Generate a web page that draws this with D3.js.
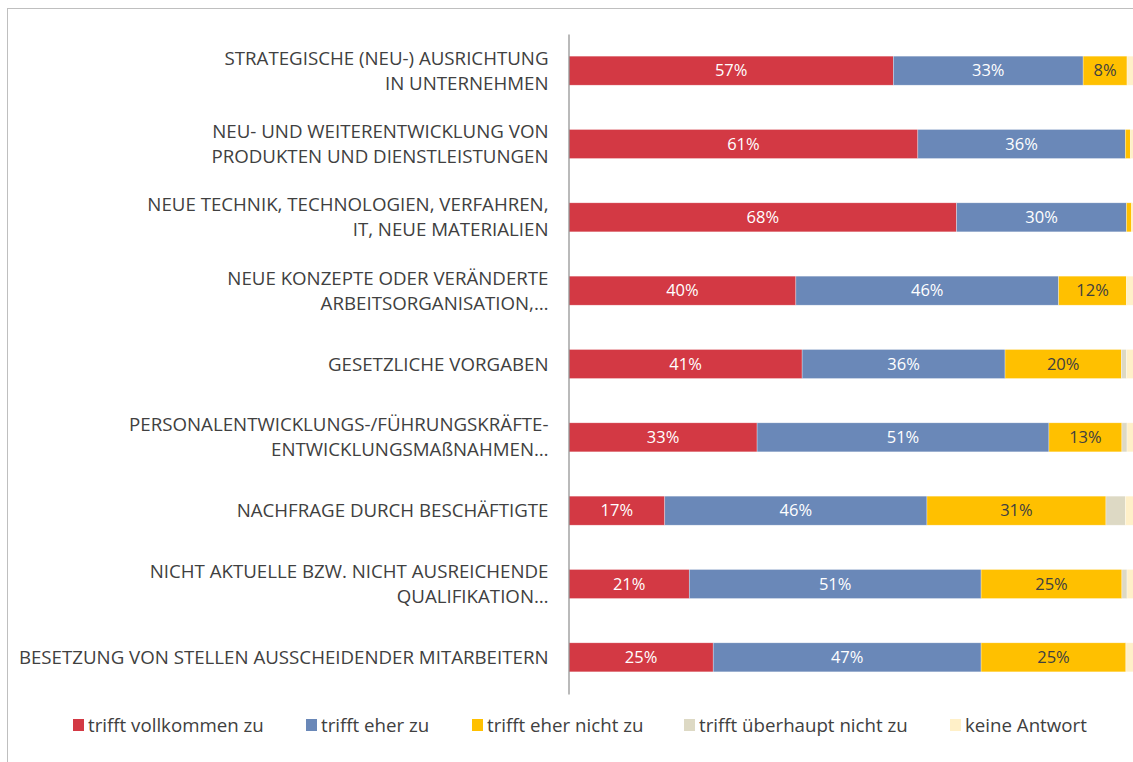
<!DOCTYPE html>
<html><head><meta charset="utf-8">
<script src="https://cdn.jsdelivr.net/npm/d3@7"></script>
<style>
html,body{margin:0;padding:0;background:#fff;overflow:hidden;}
svg{display:block;font-family:"Open Sans",sans-serif;}
</style></head>
<body>
<svg id="chart" width="1133" height="762"></svg>
<script>
const categories = [
  ["STRATEGISCHE (NEU-) AUSRICHTUNG","IN UNTERNEHMEN"],
  ["NEU- UND WEITERENTWICKLUNG VON","PRODUKTEN UND DIENSTLEISTUNGEN"],
  ["NEUE TECHNIK, TECHNOLOGIEN, VERFAHREN,","IT, NEUE MATERIALIEN"],
  ["NEUE KONZEPTE ODER VERÄNDERTE","ARBEITSORGANISATION,…"],
  ["GESETZLICHE VORGABEN"],
  ["PERSONALENTWICKLUNGS-/FÜHRUNGSKRÄFTE-","ENTWICKLUNGSMAßNAHMEN…"],
  ["NACHFRAGE DURCH BESCHÄFTIGTE"],
  ["NICHT AKTUELLE BZW. NICHT AUSREICHENDE","QUALIFIKATION…"],
  ["BESETZUNG VON STELLEN AUSSCHEIDENDER MITARBEITERN"]
];
const seriesNames = ["trifft vollkommen zu","trifft eher zu","trifft eher nicht zu","trifft überhaupt nicht zu","keine Antwort"];
const vollkommen   = [56.9, 61.2, 68.0, 39.8, 40.9, 33.0, 16.8, 21.1, 25.3];
const eherZu       = [33.3, 36.4, 29.8, 46.1, 35.6, 51.2, 46.0, 51.2, 47.0];
const eherNicht    = [7.7, 0.9, 0.9, 11.9, 20.4, 12.8, 31.4, 24.7, 25.4];
const ueberhaupt   = [0, 0, 0, 0, 0.9, 0.9, 3.4, 0.9, 0];
const keineAntwort = [2.1, 1.5, 1.3, 2.2, 2.2, 2.1, 2.4, 2.1, 2.3];
const colors = ["#D33944","#6A88B8","#FFC000","#DDD9C4","#FFF0C8"];
const labelColors = ["#ffffff","#ffffff","#404040","#404040","#404040"];

const seriesValues = [vollkommen, eherZu, eherNicht, ueberhaupt, keineAntwort];
const keys = seriesNames;
const table = categories.map((c,i)=>{
  const row = {cat: c.join(" ")};
  keys.forEach((k,j)=>row[k]=seriesValues[j][i]);
  return row;
});
const stacked = d3.stack().keys(keys)(table);
const FONT = "'Open Sans', sans-serif";

const svg = d3.select("#chart");
svg.append("rect").attr("x",7.5).attr("y",8.5).attr("width",1300).attr("height",900)
  .attr("fill","none").attr("stroke","#bfbfbf").attr("stroke-width",1);

const x = d3.scaleLinear().domain([0,100]).range([569,1139]);
const y = d3.scaleBand().domain(table.map(d=>d.cat)).range([34,694]).paddingInner(0.604).paddingOuter(0.302);

const g = svg.append("g");
stacked.forEach((s,si)=>{
  const sg = g.append("g").attr("fill",colors[si]);
  sg.selectAll("rect").data(s).join("rect")
    .attr("x",d=>x(d[0])).attr("width",d=>Math.max(0,x(d[1])-x(d[0])))
    .attr("y",d=>y(d.data.cat)).attr("height",y.bandwidth())
    .attr("stroke","#ffffff").attr("stroke-opacity",0.5).attr("stroke-width",0.6);
  sg.selectAll("text").data(s.filter(d=>d[1]-d[0]>=5)).join("text")
    .attr("x",d=>(x(d[0])+x(d[1]))/2).attr("y",d=>y(d.data.cat)+y.bandwidth()/2)
    .attr("dy","0.35em").attr("text-anchor","middle")
    .attr("font-family",FONT)
    .attr("fill",labelColors[si]).attr("font-size",16.5)
    .text(d=>Math.round(d[1]-d[0])+"%");
});

const yAxis = d3.axisLeft(y).tickSize(0).tickPadding(20).tickFormat("");
const ax = svg.append("g").attr("transform","translate(568.5,0)").call(yAxis)
  .attr("font-family",FONT);
ax.select(".domain").attr("stroke","#8c8c8c").attr("stroke-width",1.2);
ax.selectAll(".tick").each(function(d,i){
  const lines = categories[i];
  const t = d3.select(this).append("text")
    .attr("x",-20).attr("text-anchor","end").attr("fill","#404040")
    .attr("font-family",FONT).attr("font-size",18.7);
  lines.forEach((ln,li)=>{
    t.append("tspan").attr("x",-20)
      .attr("y",(li-(lines.length-1)/2)*25)
      .attr("dy","0.35em").text(ln);
  });
});

const legendX = [73,306,472,684,950];
const lg = svg.append("g");
seriesNames.forEach((n,i)=>{
  lg.append("rect").attr("x",legendX[i]).attr("y",719).attr("width",11).attr("height",12).attr("fill",colors[i]);
  lg.append("text").attr("x",legendX[i]+15).attr("y",725).attr("dy","0.35em")
    .attr("font-family",FONT)
    .attr("font-size",18.7).attr("fill","#404040").text(n);
});
</script>
</body></html>
